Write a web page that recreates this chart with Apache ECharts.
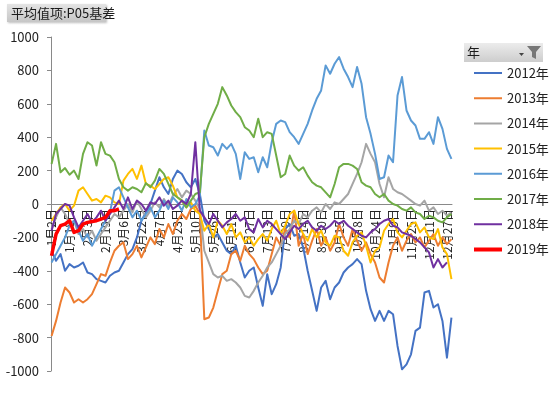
<!DOCTYPE html>
<html>
<head>
<meta charset="utf-8">
<script src="https://cdn.jsdelivr.net/npm/echarts@6/dist/echarts.min.js"></script>
<style>
html,body{margin:0;padding:0;background:#fff;}
#chart{width:550px;height:396px;}
</style>
</head>
<body>
<div id="chart"></div>
<script>
// ---- Data ----
// Category axis: calendar days (leap-year calendar) that trade in at least one year
const monthDays = [31,29,31,30,31,30,31,31,30,31,30,31];
const skippedDays = ['1月1日','5月1日','10月1日','10月2日','10月3日','10月4日','10月5日','10月6日','10月7日'];
const categories = [];
for (let m = 0; m < 12; m++) {
  for (let d = 1; d <= monthDays[m]; d++) {
    const lab = (m + 1) + '月' + d + '日';
    if (skippedDays.indexOf(lab) < 0) categories.push(lab);
  }
}
const yTicks = [-1000,-800,-600,-400,-200,0,200,400,600,800,1000];
const yearNames = ['2012年','2013年','2014年','2015年','2016年','2017年','2018年','2019年'];
// Values read every 4th category (SAMPLE_STEP) from the picture
const SAMPLE_STEP = 4;
const y2012 = [-280,-340,-300,-400,-360,-380,-370,-350,-410,-420,-450,-460,-470,-430,-410,-400,-350,-300,-270,-200,-100,-50,0,80,160,100,60,150,200,180,130,100,150,60,-100,-150,-200,-180,-230,-280,-300,-250,-350,-440,-400,-380,-500,-610,-420,-540,-480,-380,-150,-120,-190,-180,-260,-400,-520,-640,-500,-460,-570,-500,-470,-410,-380,-360,-330,-360,-520,-630,-700,-640,-700,-640,-660,-850,-990,-960,-900,-760,-740,-530,-520,-620,-600,-700,-920,-680];
const y2013 = [-790,-700,-590,-500,-530,-590,-570,-590,-570,-540,-480,-420,-430,-350,-280,-250,-230,-330,-300,-250,-320,-260,-200,-240,-150,-200,-120,-180,-100,-60,-90,-30,-10,-60,-690,-680,-620,-520,-420,-400,-300,-280,-340,-250,-300,-330,-380,-420,-400,-300,-200,-250,-150,-200,-40,-250,-180,-300,-220,-150,-250,-200,-280,-230,-120,-200,-250,-150,-220,-280,-230,-300,-350,-440,-470,-350,-250,-200,-280,-220,-180,-230,-200,-260,-220,-180,-250,-200,-240,-210];
const y2014 = [-150,-80,-20,-60,-120,-100,-180,-150,-200,-160,-220,-180,-140,-100,-60,-80,-40,0,-50,20,-30,-80,-40,10,-20,30,-10,50,90,40,80,60,20,-30,-280,-350,-420,-440,-430,-460,-450,-470,-500,-550,-560,-520,-470,-430,-380,-350,-300,-250,-180,-150,-100,-120,-60,-80,-40,-20,-50,0,-30,10,0,30,60,120,180,250,360,300,250,120,40,160,90,70,60,40,20,0,-10,20,-40,-20,-60,-40,-70,-50];
const y2015 = [-100,-60,-20,0,-40,-10,80,100,60,20,30,10,50,40,10,0,140,180,210,150,230,120,110,90,120,150,160,110,40,20,-20,10,-40,-60,-160,-120,-200,-100,-130,-180,-120,-200,-170,-230,-200,-250,-210,-180,-220,-150,-100,-180,-130,-60,-40,-120,-180,-220,-150,-200,-160,-230,-250,-190,-200,-280,-310,-230,-190,-170,-250,-350,-280,-260,-160,-120,-90,-170,-200,-160,-120,-110,-170,-140,-200,-210,-150,-260,-300,-450];
const y2016 = [-350,-300,-250,-200,-130,-100,-160,-220,-180,-250,-200,-150,-100,-50,80,100,40,-20,-80,-40,-100,-60,-20,-80,-40,20,-30,40,10,-40,30,-20,0,50,440,350,340,290,360,330,360,300,150,310,270,280,190,280,220,370,480,500,490,430,400,360,420,480,560,630,680,830,780,840,880,810,760,700,820,720,520,420,300,150,160,290,250,650,760,560,500,470,390,390,430,360,520,450,330,270];
const y2017 = [240,360,190,215,175,200,150,300,370,350,230,370,300,290,250,150,100,80,100,90,70,125,100,140,210,180,120,60,40,20,-20,20,60,70,400,480,540,600,700,650,590,550,520,460,440,400,510,400,430,420,290,160,180,290,230,200,220,170,130,110,100,70,40,120,220,240,240,230,210,130,110,100,60,40,60,20,0,-10,-30,-40,-20,-50,-60,-90,-70,-80,-100,-110,-80,-60];
const y2018 = [-160,-60,-30,0,-10,-80,-140,-100,-60,-110,-80,-40,-100,-60,-20,20,-30,40,-30,20,0,-40,10,0,40,-10,20,-30,-10,20,0,60,370,-40,-80,-120,-60,-100,-140,-110,-90,-60,-100,-80,-150,-170,-90,-140,-100,-120,-150,-180,-210,-170,-130,-150,-120,-100,-140,-160,-130,-150,-130,-100,-120,-100,-130,-150,-170,-190,-200,-170,-150,-120,-100,-90,-130,-140,-170,-180,-190,-210,-230,-260,-290,-380,-330,-380,-350];
const y2019 = [-310,-180,-130,-120,-100,-170,-160,-120,-110,-105,-100,-90,-80,-40,-40,-30];
const yearValues = [y2012,y2013,y2014,y2015,y2016,y2017,y2018,y2019];
const yearColors = ['#4472C4','#ED7D31','#A5A5A5','#FFC000','#5B9BD5','#70AD47','#7030A0','#FF0000'];
const yearWidths = [2,2,2,2,2,2,2,3.5];

const FONT = "'Noto Sans CJK SC', 'Noto Sans', sans-serif";
// legend line icons (invisible zero-area corner marks keep the 28x14 box)
const ICON_THIN = 'path://M0,0L0.01,0M0,14L0.01,14M28,0L27.99,0M0,6H28V8H0Z';
const ICON_THICK = 'path://M0,0L0.01,0M0,14L0.01,14M28,0L27.99,0M0,5H28V9H0Z';

const GRID = { left: 51, right: 98, top: 37, bottom: 25 };
const PLOT_H = 396 - GRID.top - GRID.bottom;

const series = yearNames.map((name, i) => ({
  name: name,
  type: 'line',
  symbol: 'none',
  smooth: false,
  animation: false,
  data: yearValues[i].map((v, k) => [k * SAMPLE_STEP, v]),
  lineStyle: { color: yearColors[i], width: yearWidths[i], join: 'round' },
  itemStyle: { color: yearColors[i] }
}));

const chart = echarts.init(document.getElementById('chart'), null, { renderer: 'canvas' });
chart.setOption({
  animation: false,
  backgroundColor: '#ffffff',
  grid: Object.assign({ containLabel: false, outerBoundsMode: 'none' }, GRID),
  xAxis: {
    type: 'category',
    data: categories,
    boundaryGap: true,
    position: 'bottom',
    offset: -PLOT_H / 2,
    axisLine: { onZero: false, lineStyle: { color: '#898989', width: 1 } },
    axisTick: { show: false },
    axisLabel: { interval: 15, rotate: 90, fontSize: 12, margin: 5, color: '#222', fontFamily: FONT, hideOverlap: false },
    splitLine: { show: false }
  },
  yAxis: {
    type: 'value',
    min: yTicks[0], max: yTicks[yTicks.length - 1], interval: 200,
    axisLine: { show: true, lineStyle: { color: '#898989', width: 1 } },
    axisTick: { show: true, length: 4, lineStyle: { color: '#898989' } },
    axisLabel: { fontSize: 13, margin: 12, color: '#222', fontFamily: FONT, formatter: v => String(v) },
    splitLine: { show: false }
  },
  legend: {
    orient: 'vertical',
    left: 469, top: 61,
    itemWidth: 28, itemHeight: 14, itemGap: 11.2,
    textStyle: { fontSize: 13, color: '#222', fontFamily: FONT },
    data: yearNames.map((n, i) => ({ name: n, icon: yearWidths[i] > 2 ? ICON_THICK : ICON_THIN }))
  },
  graphic: [
    { type: 'rect', shape: { x: 7, y: 4, width: 99, height: 18 },
      style: { fill: new echarts.graphic.LinearGradient(0,0,0,1,[{offset:0,color:'#e4e4e4'},{offset:1,color:'#c6c6c6'}]),
               shadowBlur: 2, shadowColor: 'rgba(0,0,0,0.25)', shadowOffsetX: 1, shadowOffsetY: 1 } },
    { type: 'text', x: 11, y: 13, style: { text: '平均值项:P05基差', fill: '#1a1a1a', font: '13px ' + FONT, verticalAlign: 'middle' } },
    { type: 'rect', shape: { x: 464, y: 43, width: 79, height: 19 },
      style: { fill: new echarts.graphic.LinearGradient(0,0,0,1,[{offset:0,color:'#ececec'},{offset:1,color:'#cdcdcd'}]) } },
    { type: 'text', x: 467, y: 52.5, style: { text: '年', font: '13px ' + FONT, fill: '#1a1a1a', verticalAlign: 'middle' } },
    { type: 'polygon', shape: { points: [[519,53],[524,53],[521.5,56]] }, style: { fill: '#444' } },
    { type: 'polygon', shape: { points: [[527,46],[541,46],[536,52],[536,59],[532,57],[532,52]] }, style: { fill: '#777' } }
  ],
  series: series
});
</script>
</body>
</html>
